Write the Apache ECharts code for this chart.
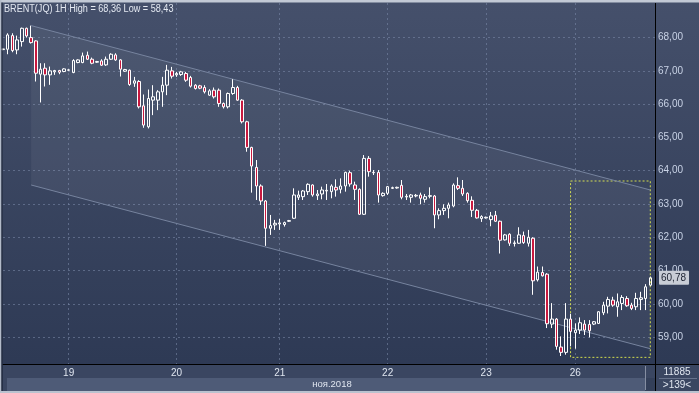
<!DOCTYPE html>
<html><head><meta charset="utf-8">
<script src="https://cdn.jsdelivr.net/npm/echarts@6/dist/echarts.min.js"></script>
<style>html,body{margin:0;padding:0;background:#3a4661;overflow:hidden}#c{width:699px;height:393px}</style>
</head><body><div id="c"></div>
<script>
// ---- data (BRENT(JQ), 1H bars, Nov 2018) ----
const sessionDays = ['18','19','20','21','22','23','26'];
const barsPerDay  = [14, 23, 22, 23, 21, 19, 18];   // hourly slots per session (last session has one empty slot)
const yTicks = [59,60,61,62,63,64,65,66,67,68];

const opens = [67.64,67.65,68.06,67.63,67.88,68.28,68.00,67.90,66.90,67.08,66.88,66.97,67.01,66.98,67.02,66.95,67.25,67.25,67.47,67.35,
67.26,67.30,67.18,67.35,67.48,67.33,66.99,67.02,66.63,66.68,65.95,65.32,66.12,66.12,66.37,66.57,67.00,66.88,66.89,66.92,
66.80,66.57,66.55,66.50,66.27,66.42,66.42,66.02,65.92,66.32,66.50,66.12,65.47,64.70,64.10,63.54,63.09,62.27,62.37,62.40,
62.38,62.48,62.57,63.20,63.22,63.37,63.57,63.25,63.30,63.39,63.37,63.50,63.44,63.54,63.94,63.57,63.44,62.69,64.37,63.95,
63.95,63.25,63.32,63.47,63.48,63.56,63.21,63.20,63.24,63.27,63.14,63.23,63.24,62.67,62.80,62.87,62.94,63.55,63.47,63.32,
63.11,62.81,62.56,62.58,62.53,62.66,62.48,61.92,62.09,61.81,61.82,62.05,61.82,61.97,60.72,60.94,60.89,59.39,59.54,58.70,
58.54,59.54,59.13,59.21,59.39,59.38,59.39,59.41,59.73,59.93,60.11,59.91,60.01,60.16,59.96,59.91,60.13,60.16,60.56];
const closes = [67.66,68.08,67.61,67.93,68.28,68.05,67.85,66.93,67.05,66.88,67.00,67.01,66.96,67.06,67.03,67.31,67.33,67.45,67.35,67.23,
67.28,67.17,67.35,67.50,67.33,67.05,67.04,66.59,66.70,65.92,65.37,66.17,66.22,66.37,66.57,67.02,66.84,66.92,66.97,66.72,
66.54,66.47,66.48,66.37,66.40,66.22,66.02,65.92,66.32,66.50,66.12,65.47,64.70,64.14,63.54,63.09,62.27,62.35,62.42,62.43,
62.44,62.50,63.27,63.27,63.39,63.59,63.27,63.30,63.42,63.41,63.54,63.42,63.54,63.95,63.60,63.44,62.69,64.37,63.97,63.94,
63.27,63.32,63.52,63.49,63.50,63.20,63.23,63.27,63.26,63.17,63.22,63.25,62.67,62.80,62.87,62.97,63.57,63.47,63.30,63.10,
62.81,62.58,62.62,62.60,62.64,62.48,61.91,62.07,61.82,61.83,62.07,61.84,62.00,60.69,60.95,60.84,59.40,59.54,58.72,58.54,
59.54,59.17,59.21,59.43,59.21,59.19,59.46,59.76,59.96,60.13,59.96,60.06,60.19,59.94,59.86,60.16,60.18,60.51,60.78];
const lows = [67.62,67.50,67.56,67.50,67.73,68.00,67.82,66.68,66.05,66.53,66.58,66.88,66.90,66.96,67.00,66.93,67.23,67.23,67.33,67.20,
67.24,67.15,67.15,67.33,67.30,66.83,66.97,66.55,66.52,65.87,65.29,65.27,65.67,65.82,65.92,66.27,66.77,66.82,66.85,66.67,
66.50,66.44,66.45,66.32,66.25,66.17,65.92,65.87,65.87,66.28,66.10,65.42,64.57,63.34,63.12,62.97,61.74,62.07,62.22,62.22,
62.32,62.46,62.55,63.12,63.12,63.27,63.22,63.12,63.14,63.12,63.17,63.22,63.32,63.37,63.52,63.12,62.67,62.67,63.82,63.87,
63.04,63.22,63.27,63.45,63.46,63.14,63.12,63.04,63.20,62.99,63.04,63.17,62.27,62.54,62.67,62.57,62.90,63.42,63.24,63.04,
62.61,62.56,62.46,62.56,62.33,62.46,61.51,61.90,61.74,61.72,61.80,61.80,61.72,60.27,60.67,60.82,59.27,59.27,58.62,58.43,
58.47,58.72,58.65,59.09,59.06,58.99,59.36,59.39,59.66,59.71,59.91,59.61,59.81,59.91,59.81,59.81,59.81,59.81,60.53];
const highs = [67.66,68.13,68.13,68.06,68.30,68.30,68.36,67.92,67.23,67.23,67.13,67.03,67.03,67.08,67.05,67.35,67.35,67.55,67.58,67.40,
67.30,67.35,67.43,67.53,67.53,67.35,67.06,67.04,66.82,66.72,66.29,66.44,66.57,66.42,66.82,67.18,67.12,66.97,67.00,66.97,
66.85,66.60,66.58,66.57,66.45,66.50,66.47,66.05,66.35,66.75,66.55,66.15,65.50,64.72,64.32,63.59,63.12,62.67,62.52,62.55,
62.47,62.52,63.47,63.40,63.42,63.62,63.59,63.42,63.52,63.60,63.59,63.74,63.77,63.97,64.00,63.67,63.47,64.47,64.44,64.02,
64.02,63.35,63.54,63.52,63.52,63.72,63.30,63.30,63.30,63.34,63.30,63.50,63.27,62.87,62.99,63.04,63.62,63.80,63.72,63.35,
63.23,62.85,62.66,62.62,62.76,62.79,62.50,62.10,62.12,61.90,62.30,62.17,62.22,62.00,61.12,61.12,60.92,60.02,59.57,59.02,
60.02,59.70,59.41,59.59,59.51,59.51,59.48,59.78,60.06,60.21,60.21,60.31,60.26,60.23,60.03,60.33,60.36,60.59,60.82];

// trend channel (bar index, upper, lower) and highlighted box
const channelIdx   = [6, 138];
const channelUpper = [68.36, 63.42];
const channelLower = [63.57, 58.65];
const boxIdx   = [121, 138];
const boxRange = [63.69, 58.39];
const lastPrice = 60.78;

// ---- build ----
const categories = [];
const dayFirstIdx = {};
sessionDays.forEach((d, k) => {
  dayFirstIdx[categories.length] = d;
  for (let h = 0; h < barsPerDay[k]; h++) categories.push(d + '.11 #' + (h + 1));
});
const labelIdx = Object.keys(dayFirstIdx).map(Number).filter(i => i > 0);
const ohlc = opens.map((o, i) => [o, closes[i], lows[i], highs[i]]);
const fmt = v => v.toFixed(2).replace('.', ',');
const FONT = 'Liberation Sans';

const chart = echarts.init(document.getElementById('c'), null, {renderer: 'canvas'});
chart.setOption({
  animation: false,
  backgroundColor: {type: 'linear', x: 0, y: 0, x2: 0, y2: 1,
    colorStops: [{offset: 0, color: '#45506b'}, {offset: 1, color: '#2c3853'}]},
  grid: {left: 3, right: 44, top: 3, bottom: 29},
  xAxis: {
    type: 'category', data: categories, boundaryGap: false,
    axisLine: {show: true, lineStyle: {color: '#000', width: 1}},
    axisTick: {show: false},
    axisLabel: {interval: (i) => labelIdx.includes(i), formatter: (v, i) => dayFirstIdx[i] || '',
      color: '#dfe5ef', fontSize: 10, fontFamily: FONT, margin: 4},
    splitLine: {show: true, interval: (i) => labelIdx.includes(i),
      lineStyle: {color: 'rgba(125,140,172,0.55)', type: [2, 3], width: 1}}
  },
  yAxis: {
    type: 'value', position: 'right', min: 58.19, max: 69.04,
    axisLine: {show: false},
    axisTick: {show: false, customValues: yTicks},
    axisLabel: {customValues: yTicks, formatter: fmt, color: '#c9d3e6', fontSize: 10, fontFamily: FONT, margin: 3},
    splitLine: {show: true, lineStyle: {color: 'rgba(125,140,172,0.55)', type: [2, 3], width: 1}}
  },
  series: [
    {
      type: 'custom', z: 1, silent: true,
      data: [[channelIdx[0], channelUpper[0], channelLower[0], channelIdx[1], channelUpper[1], channelLower[1]]],
      encode: {x: [0, 3], y: [1, 2, 4, 5]},
      renderItem: function (params, api) {
        const a = api.coord([api.value(0), api.value(1)]);
        const b = api.coord([api.value(3), api.value(4)]);
        const c = api.coord([api.value(3), api.value(5)]);
        const d = api.coord([api.value(0), api.value(2)]);
        return {type: 'group', children: [
          {type: 'polygon', shape: {points: [a, b, c, d]}, style: {fill: 'rgba(255,255,255,0.05)'}},
          {type: 'line', shape: {x1: a[0], y1: a[1], x2: b[0], y2: b[1]}, style: {stroke: '#76839e', lineWidth: 1}},
          {type: 'line', shape: {x1: d[0], y1: d[1], x2: c[0], y2: c[1]}, style: {stroke: '#76839e', lineWidth: 1}}
        ]};
      }
    },
    {
      type: 'candlestick', z: 3, data: ohlc, barWidth: 3,
      itemStyle: {color: 'rgba(0,0,0,0)', color0: '#c8193f', borderColor: '#ffffff', borderColor0: '#ffffff', borderWidth: 1},
      markArea: {
        silent: true,
        itemStyle: {color: 'rgba(0,0,0,0)', borderColor: '#d2dc4c', borderWidth: 1, borderType: [2, 2]},
        data: [[{xAxis: categories[boxIdx[0]], yAxis: boxRange[0]}, {xAxis: categories[boxIdx[1]], yAxis: boxRange[1]}]]
      },
      markLine: {
        silent: true, symbol: ['none', 'none'],
        lineStyle: {color: 'rgba(0,0,0,0)', width: 0},
        label: {show: true, position: 'end', distance: 4, formatter: fmt(lastPrice),
          backgroundColor: '#c8cdd6', color: '#1b2130', fontSize: 10, fontFamily: FONT,
          padding: [2, 3, 2, 2], borderRadius: 1},
        data: [{yAxis: lastPrice}]
      }
    }
  ],
  graphic: [
    {type: 'rect', z: -5, shape: {x: 3, y: 365, width: 652, height: 13}, style: {fill: '#3a4661'}},
    {type: 'rect', z: -5, shape: {x: 3, y: 378, width: 642, height: 13}, style: {fill: '#3a4661'}},
    {type: 'rect', z: -4, shape: {x: 7, y: 378, width: 638, height: 13}, style: {fill: '#4e5b77'}},
    {type: 'rect', z: -4, shape: {x: 645, y: 378, width: 10, height: 13}, style: {fill: '#333f59'}},
    {type: 'rect', z: -5, shape: {x: 656, y: 365, width: 43, height: 26}, style: {fill: '#3a4661'}},
    {type: 'line', z: 10, shape: {x1: 645.5, y1: 366, x2: 645.5, y2: 390}, style: {stroke: '#858ea2', lineWidth: 1}},
    {type: 'line', z: 10, shape: {x1: 659, y1: 378.5, x2: 697, y2: 378.5}, style: {stroke: '#66728b', lineWidth: 1}},
    {type: 'line', z: 10, shape: {x1: 655, y1: 364.5, x2: 699, y2: 364.5}, style: {stroke: '#000', lineWidth: 1}},
    {type: 'line', z: 10, shape: {x1: 655.5, y1: 3, x2: 655.5, y2: 391}, style: {stroke: '#000', lineWidth: 1}},
    {type: 'rect', z: 10, shape: {x: 0, y: 0, width: 699, height: 2.5}, style: {fill: '#c2c9d5'}},
    {type: 'rect', z: 10, shape: {x: 0, y: 0, width: 1.5, height: 393}, style: {fill: '#b3bbc9'}},
    {type: 'rect', z: 10, shape: {x: 1.5, y: 2.5, width: 1, height: 389}, style: {fill: '#1f2739'}},
    {type: 'rect', z: 10, shape: {x: 0, y: 391, width: 699, height: 2}, style: {fill: '#bac2cf'}},
    {type: 'text', z: 20, x: 4, y: 4, scaleX: 0.91,
      style: {text: 'BRENT(JQ) 1H High = 68,36 Low = 58,43', fill: '#e4e9f2', font: '10px "Liberation Sans"', textVerticalAlign: 'top'}},
    {type: 'text', z: 20, x: 332, y: 384,
      style: {text: 'ноя.2018', fill: '#dfe5ef', font: '9.5px "Liberation Sans"', textAlign: 'center', textVerticalAlign: 'middle'}},
    {type: 'text', z: 20, x: 677, y: 372,
      style: {text: '11885', fill: '#e0e6f0', font: '10px "Liberation Sans"', textAlign: 'center', textVerticalAlign: 'middle'}},
    {type: 'text', z: 20, x: 677, y: 385,
      style: {text: '>139<', fill: '#e0e6f0', font: '10px "Liberation Sans"', textAlign: 'center', textVerticalAlign: 'middle'}}
  ]
});
</script></body></html>
